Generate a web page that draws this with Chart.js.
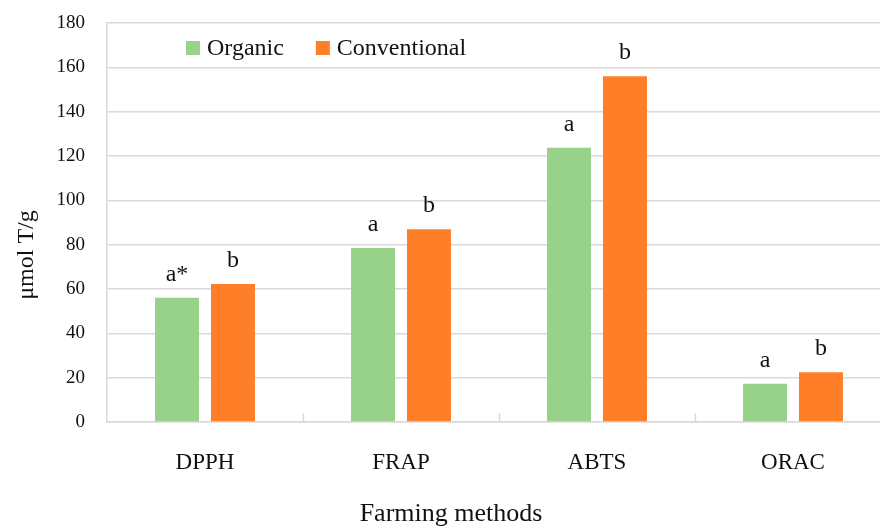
<!DOCTYPE html>
<html>
<head>
<meta charset="utf-8">
<script src="https://cdn.jsdelivr.net/npm/chart.js@4.4.0/dist/chart.umd.min.js"></script>
<style>
  html, body { margin: 0; padding: 0; background: #ffffff; overflow: hidden; }
  #wrap { width: 894px; height: 526px; position: relative; }
</style>
</head>
<body>
<div id="wrap"><canvas id="chart" width="894" height="526"></canvas></div>
<script>
// Antioxidant capacity by farming method (µmol T/g)
const categories = ['DPPH', 'FRAP', 'ABTS', 'ORAC'];
const seriesNames = ['Organic', 'Conventional'];
const organic = [56.0, 78.5, 123.7, 17.2];
const conventional = [62.3, 87.0, 156.0, 22.5];
const organicLetters = ['a*', 'a', 'a', 'a'];
const conventionalLetters = ['b', 'b', 'b', 'b'];
const yTicks = [0, 20, 40, 60, 80, 100, 120, 140, 160, 180];
const xTitle = 'Farming methods';
const yTitle = 'μmol T/g';

const SERIF = '"Liberation Serif", "DejaVu Serif", serif';
const GREEN = '#97d18a';
const ORANGE = '#fe7f27';
const GRID = '#d9d9d9';
const INK = '#111111';

// Significance letters printed above each bar
const lettersPlugin = {
  id: 'letters',
  afterDatasetsDraw(chart) {
    const ctx = chart.ctx;
    const sets = [organicLetters, conventionalLetters];
    ctx.save();
    ctx.font = '24px ' + SERIF;
    ctx.fillStyle = INK;
    ctx.textAlign = 'center';
    ctx.textBaseline = 'alphabetic';
    chart.data.datasets.forEach((ds, di) => {
      const meta = chart.getDatasetMeta(di);
      meta.data.forEach((bar, i) => {
        ctx.fillText(sets[di][i], bar.x, bar.y - 17);
      });
    });
    ctx.restore();
  }
};

// Short inside tick marks between categories on the category axis
const boundaryTicks = {
  id: 'boundaryTicks',
  afterDraw(chart) {
    const x = chart.scales.x;
    const area = chart.chartArea;
    const ctx = chart.ctx;
    ctx.save();
    ctx.strokeStyle = GRID;
    ctx.lineWidth = 1.5;
    for (let i = 1; i < categories.length; i++) {
      const px = Math.round((x.getPixelForTick(i - 1) + x.getPixelForTick(i)) / 2) + 0.5;
      ctx.beginPath();
      ctx.moveTo(px, area.bottom);
      ctx.lineTo(px, area.bottom - 9);
      ctx.stroke();
    }
    ctx.restore();
  }
};

// Legend drawn inside the plot area near the top
const innerLegend = {
  id: 'innerLegend',
  afterDraw(chart) {
    const ctx = chart.ctx;
    const area = chart.chartArea;
    ctx.save();
    ctx.font = '24px ' + SERIF;
    ctx.textBaseline = 'middle';
    ctx.textAlign = 'left';
    let x = area.left + 79;
    const y = area.top + 25;
    chart.data.datasets.forEach((ds) => {
      ctx.fillStyle = ds.backgroundColor;
      ctx.fillRect(x, y - 7, 14, 14);
      ctx.fillStyle = INK;
      ctx.fillText(ds.label, x + 21, y + 1);
      x += 21 + ctx.measureText(ds.label).width + 32;
    });
    ctx.restore();
  }
};

// Axis titles, centred on the whole figure rather than on the plot area
const axisTitles = {
  id: 'axisTitles',
  afterDraw(chart) {
    const ctx = chart.ctx;
    const w = chart.width, h = chart.height;
    ctx.save();
    ctx.fillStyle = INK;
    ctx.textAlign = 'center';
    ctx.textBaseline = 'middle';
    ctx.font = '26px ' + SERIF;
    ctx.fillText(xTitle, w / 2 + 4, h - 12);
    ctx.font = '24px ' + SERIF;
    ctx.translate(27, h / 2 - 8);
    ctx.rotate(-Math.PI / 2);
    ctx.fillText(yTitle, 0, 0);
    ctx.restore();
  }
};

new Chart(document.getElementById('chart'), {
  type: 'bar',
  data: {
    labels: categories,
    datasets: [
      { label: seriesNames[0], data: organic, backgroundColor: GREEN, borderWidth: 0 },
      { label: seriesNames[1], data: conventional, backgroundColor: ORANGE, borderWidth: 0 }
    ]
  },
  options: {
    responsive: false,
    animation: false,
    devicePixelRatio: 1,
    categoryPercentage: 0.571,
    barPercentage: 0.786,
    layout: { padding: { top: 23, right: 3, left: 14, bottom: 0 } },
    plugins: {
      legend: { display: false },
      tooltip: { enabled: false }
    },
    scales: {
      x: {
        afterFit(scale) { scale.height = 104; scale.paddingLeft = 0; scale.paddingRight = 0; },
        grid: { display: false, drawTicks: false, tickLength: 0 },
        border: { display: true, color: GRID, width: 1.5 },
        ticks: { color: INK, font: { family: SERIF, size: 23 }, padding: 27, maxRotation: 0 },
        title: { display: false }
      },
      y: {
        min: 0, max: 180,
        afterBuildTicks(scale) { scale.ticks = yTicks.map(v => ({ value: v })); },
        afterFit(scale) { scale.width = 93; scale.paddingTop = 0; scale.paddingBottom = 0; },
        grid: { color: GRID, lineWidth: 1.5, drawTicks: false, tickLength: 0 },
        border: { display: true, color: GRID, width: 1.5 },
        ticks: { color: INK, font: { family: SERIF, size: 19 }, padding: 22 },
        title: { display: false }
      }
    }
  },
  plugins: [lettersPlugin, boundaryTicks, innerLegend, axisTitles]
});
</script>
</body>
</html>
